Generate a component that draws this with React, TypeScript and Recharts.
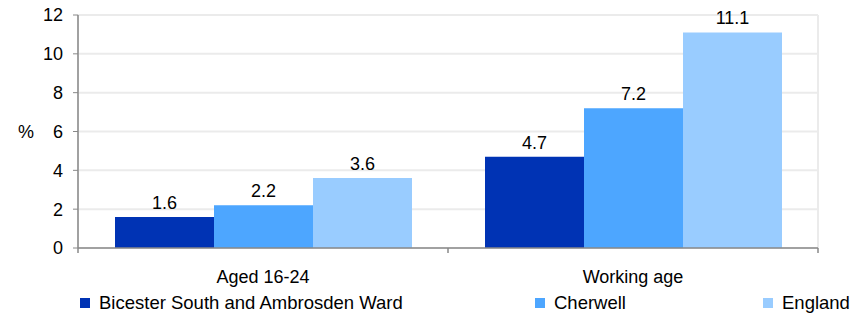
import { BarChart, Bar, XAxis, YAxis, CartesianGrid, Legend, LabelList } from 'recharts'

const categories = ['Aged 16-24', 'Working age']
const bicester = [1.6, 4.7]
const cherwell = [2.2, 7.2]
const england = [3.6, 11.1]
const yTicks = [0, 2, 4, 6, 8, 10, 12]

const SERIES = [
    { key: 'bicester', name: 'Bicester South and Ambrosden Ward', color: '#0033B4' },
    { key: 'cherwell', name: 'Cherwell', color: '#4DA6FF' },
    { key: 'england', name: 'England', color: '#99CCFF' },
]

const data = categories.map((c, i) => ({
    name: c,
    bicester: bicester[i],
    cherwell: cherwell[i],
    england: england[i],
}))

const FONT = 'Arial, "Liberation Sans", sans-serif'
const legendLeft = [80, 535, 763]

const LegendContent = () => (
    <div style={{ position: 'relative', height: 27, fontFamily: FONT, fontSize: 18.5 }}>
        {SERIES.map((s, i) => (
            <div
                key={s.key}
                style={{ position: 'absolute', left: legendLeft[i], top: 4, display: 'flex', alignItems: 'center', whiteSpace: 'nowrap' }}
            >
                <span style={{ width: 10, height: 10, background: s.color, marginRight: 9, display: 'inline-block' }} />
                <span style={{ color: '#000' }}>{s.name}</span>
            </div>
        ))}
    </div>
)

// category label plus tick marks on the category boundaries
const CatTick = (props: any) => {
    const { x, y, payload, index, visibleTicksCount } = props
    const half = payload.offset ?? 0
    const last = index === visibleTicksCount - 1
    return (
        <g>
            <line x1={x - half} x2={x - half} y1={y} y2={y + 5} stroke="#888" strokeWidth={1.5} />
            {last && <line x1={x + half} x2={x + half} y1={y} y2={y + 5} stroke="#888" strokeWidth={1.5} />}
            <text x={x} y={y + 35} textAnchor="middle" fill="#000" fontSize={18} fontFamily={FONT}>
                {payload.value}
            </text>
        </g>
    )
}

export default function App() {
    return (
        <div style={{ width: 857, height: 315 }}>
            <style>{'body{margin:0}'}</style>
            <BarChart
                width={857}
                height={315}
                data={data}
                margin={{ top: 15, right: 39, left: 0, bottom: 0 }}
                barCategoryGap="10%"
                barGap={0}
            >
                <CartesianGrid xAxisId="grid" yAxisId="y" stroke="#EBEBEB" strokeWidth={2} />
                <XAxis
                    xAxisId="grid"
                    type="number"
                    domain={[0, 2]}
                    ticks={[0, 1, 2]}
                    height={0}
                    axisLine={false}
                    tickLine={false}
                    tick={false}
                />
                <XAxis
                    xAxisId="cat"
                    dataKey="name"
                    height={40}
                    axisLine={{ stroke: '#888', strokeWidth: 1.5 }}
                    tickLine={false}
                    tickSize={0}
                    tickMargin={0}
                    tick={<CatTick />}
                />
                <YAxis
                    yAxisId="y"
                    width={78}
                    domain={[0, 12]}
                    ticks={yTicks}
                    axisLine={{ stroke: '#888', strokeWidth: 1.5 }}
                    tickLine={{ stroke: '#888' }}
                    tickSize={5}
                    tickMargin={10}
                    tick={{ fill: '#000', fontSize: 18, fontFamily: FONT }}
                    label={{ value: '%', position: 'insideLeft', offset: 18, fill: '#000', fontSize: 18, fontFamily: FONT }}
                />
                <Legend verticalAlign="bottom" height={27} content={<LegendContent />} />
                {SERIES.map((s) => (
                    <Bar
                        key={s.key}
                        dataKey={s.key}
                        name={s.name}
                        fill={s.color}
                        xAxisId="cat"
                        yAxisId="y"
                        isAnimationActive={false}
                    >
                        <LabelList
                            dataKey={s.key}
                            position="top"
                            offset={8}
                            fill="#000"
                            fontSize={18}
                            fontFamily={FONT}
                        />
                    </Bar>
                ))}
            </BarChart>
        </div>
    )
}
